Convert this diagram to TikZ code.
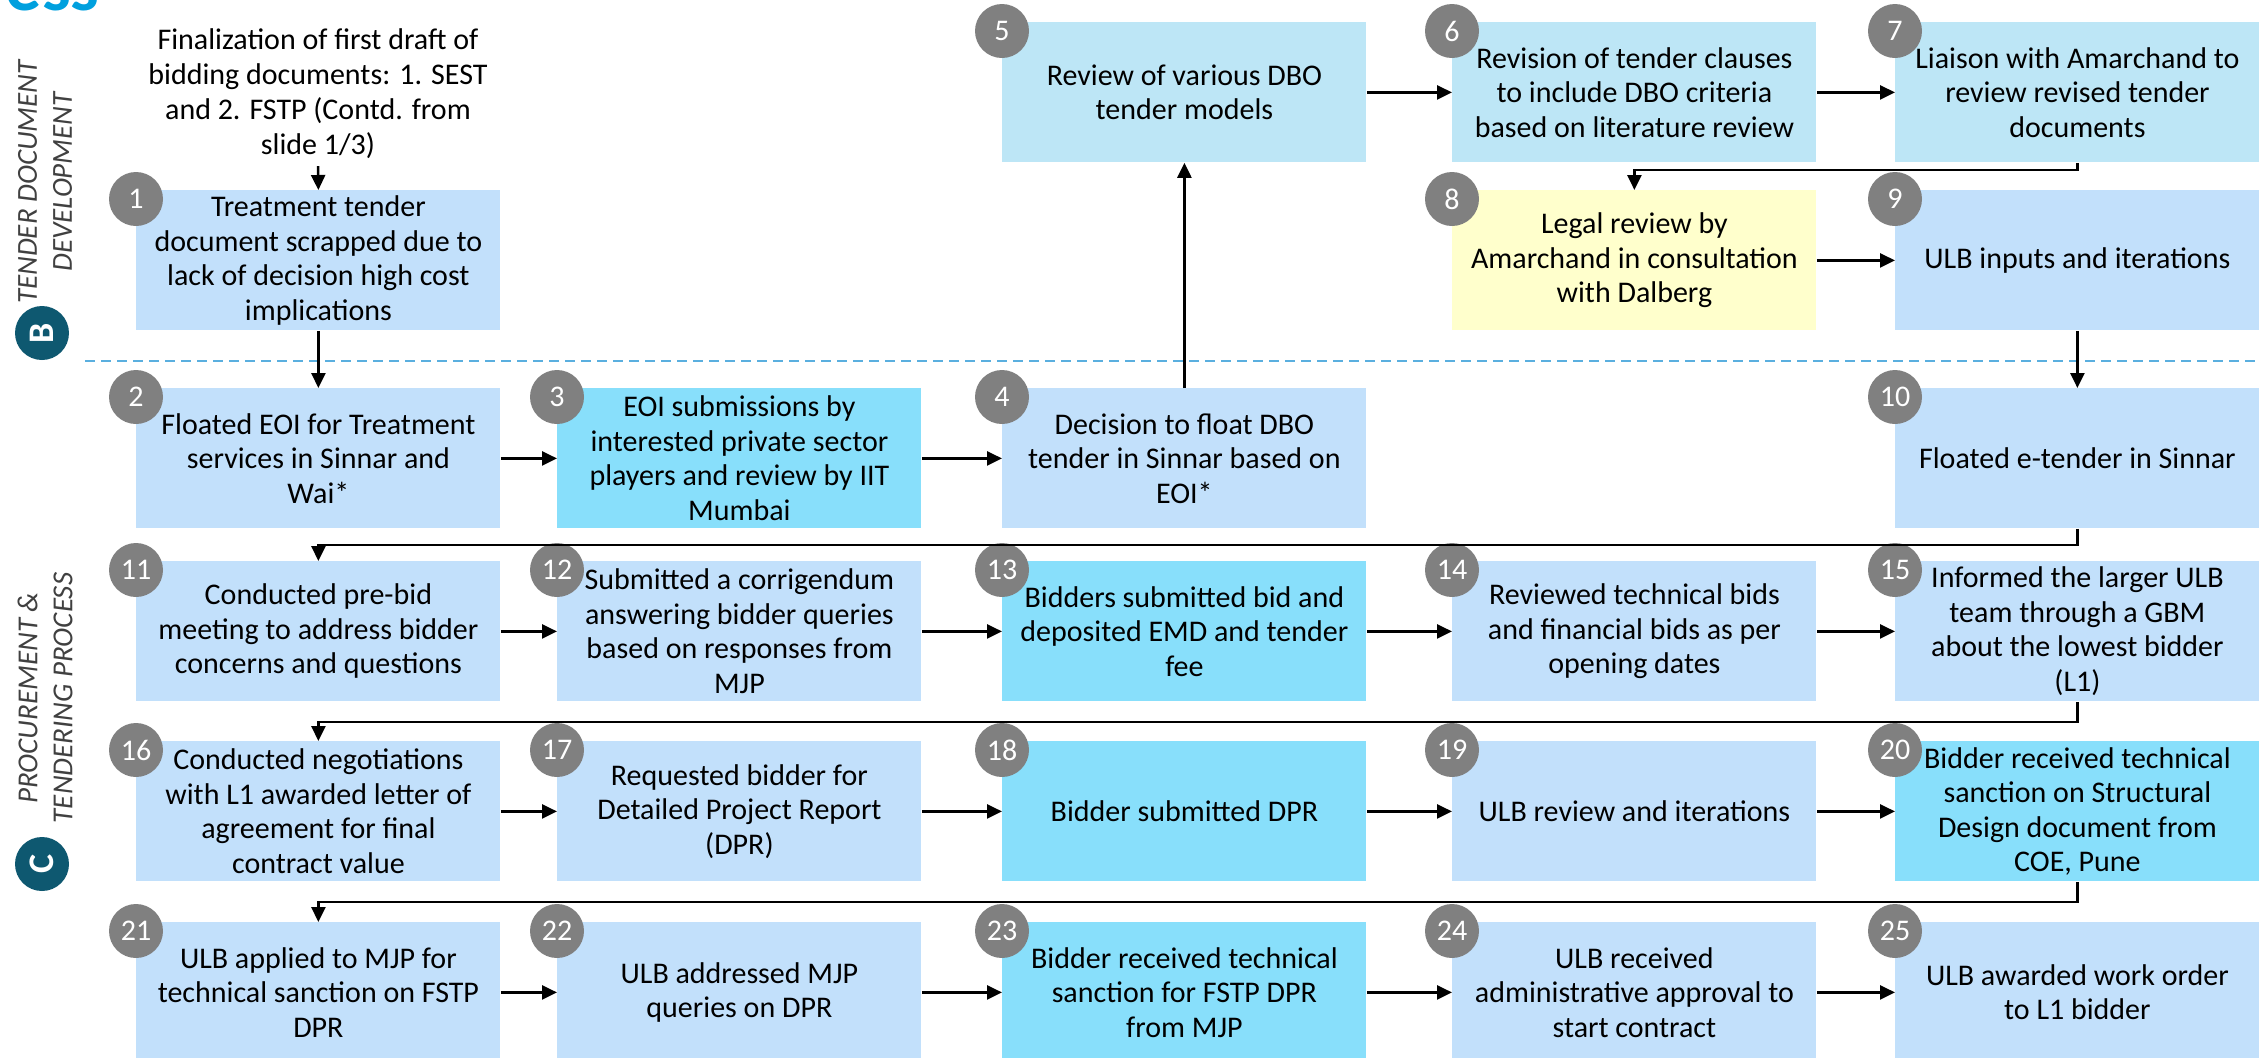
\documentclass[tikz,border=0pt]{standalone}
\usepackage{fontspec}
\setmainfont{Carlito}
\usetikzlibrary{arrows.meta}

\definecolor{boxblue}{RGB}{194,224,251}
\definecolor{boxcyan}{RGB}{136,223,251}
\definecolor{boxsky}{RGB}{189,230,246}
\definecolor{boxyellow}{RGB}{255,255,204}
\definecolor{numgray}{RGB}{128,128,128}
\definecolor{phaseteal}{RGB}{14,88,112}
\definecolor{divider}{RGB}{90,175,223}
\definecolor{titlecyan}{RGB}{0,160,222}
\definecolor{sidegray}{RGB}{64,64,64}

\tikzset{
  stepbox/.style={rectangle, anchor=north west, minimum width=182pt,
    minimum height=70pt, inner sep=0pt, align=center,
    font=\fontsize{15}{17.25}\selectfont},
  numdot/.style={circle, fill=numgray, text=white, minimum size=27pt,
    inner sep=0pt, font=\fontsize{15}{15}\selectfont},
  phasedot/.style={circle, fill=phaseteal, text=white, minimum size=27pt,
    inner sep=0pt, font=\bfseries\fontsize{18}{18}\selectfont},
  sidelabel/.style={rotate=90, align=center, text=sidegray,
    font=\itshape\fontsize{14.5}{17.5}\selectfont},
  conn/.style={draw=black, line width=1.25pt,
    -{Triangle[length=7.5pt,width=7pt]}},
  divline/.style={draw=divider, line width=1pt, dash pattern=on 5pt off 3pt},
}

% one numbered step: name/number, x, y (top-left corner), fill colour, text
\newcommand\flowstep[5]{%
  \node[stepbox, fill=#4] (s#1) at (#2,#3) {#5};
  \node[numdot] (n#1) at ([yshift=-4.5pt]s#1.north west) {#1};
}

\begin{document}
\begin{tikzpicture}[x=0.5pt, y=-0.5pt]
\useasboundingbox (0,0) rectangle (2260,1057);

% heading fragment
\node[anchor=base east, inner sep=0pt, text=titlecyan,
  font=\bfseries\fontsize{36}{36}\selectfont] (head) at (100,10) {ess};

% phase divider
\draw[divline] (85,361) -- (2260,361);

% phase markers
\node[phasedot] (phB) at (42,333) {\rotatebox{90}{B}};
\node[sidelabel] (labB) at (45,182) {TENDER DOCUMENT\\DEVELOPMENT};
\node[phasedot] (phC) at (42,864) {\rotatebox{90}{C}};
\node[sidelabel] (labC) at (45,698) {PROCUREMENT \&\\TENDERING PROCESS};

% starting note
\node[align=center, font=\fontsize{15}{17.5}\selectfont] (draft) at (318,94)
  {Finalization of first draft of\\bidding documents: 1. SEST\\and 2. FSTP (Contd. from\\slide 1/3)};

% tender document development
\flowstep{5}{1002}{22}{boxsky}{Review of various DBO\\tender models}
\flowstep{6}{1452}{22}{boxsky}{Revision of tender clauses\\to include DBO criteria\\based on literature review}
\flowstep{7}{1895}{22}{boxsky}{Liaison with Amarchand to\\review revised tender\\documents}
\flowstep{1}{136}{190}{boxblue}{Treatment tender\\document scrapped due to\\lack of decision high cost\\implications}
\flowstep{8}{1452}{190}{boxyellow}{Legal review by\\Amarchand in consultation\\with Dalberg}
\flowstep{9}{1895}{190}{boxblue}{ULB inputs and iterations}

% procurement and tendering
\flowstep{2}{136}{388}{boxblue}{Floated EOI for Treatment\\services in Sinnar and\\Wai*}
\flowstep{3}{557}{388}{boxcyan}{EOI submissions by\\interested private sector\\players and review by IIT\\Mumbai}
\flowstep{4}{1002}{388}{boxblue}{Decision to float DBO\\tender in Sinnar based on\\EOI*}
\flowstep{10}{1895}{388}{boxblue}{Floated e-tender in Sinnar}

\flowstep{11}{136}{561}{boxblue}{Conducted pre-bid\\meeting to address bidder\\concerns and questions}
\flowstep{12}{557}{561}{boxblue}{Submitted a corrigendum\\answering bidder queries\\based on responses from\\MJP}
\flowstep{13}{1002}{561}{boxcyan}{Bidders submitted bid and\\deposited EMD and tender\\fee}
\flowstep{14}{1452}{561}{boxblue}{Reviewed technical bids\\and financial bids as per\\opening dates}
\flowstep{15}{1895}{561}{boxblue}{Informed the larger ULB\\team through a GBM\\about the lowest bidder\\(L1)}

\flowstep{16}{136}{741}{boxblue}{Conducted negotiations\\with L1 awarded letter of\\agreement for final\\contract value}
\flowstep{17}{557}{741}{boxblue}{Requested bidder for\\Detailed Project Report\\(DPR)}
\flowstep{18}{1002}{741}{boxcyan}{Bidder submitted DPR}
\flowstep{19}{1452}{741}{boxblue}{ULB review and iterations}
\flowstep{20}{1895}{741}{boxcyan}{Bidder received technical\\sanction on Structural\\Design document from\\COE, Pune}

\flowstep{21}{136}{922}{boxblue}{ULB applied to MJP for\\technical sanction on FSTP\\DPR}
\flowstep{22}{557}{922}{boxblue}{ULB addressed MJP\\queries on DPR}
\flowstep{23}{1002}{922}{boxcyan}{Bidder received technical\\sanction for FSTP DPR\\from MJP}
\flowstep{24}{1452}{922}{boxblue}{ULB received\\administrative approval to\\start contract}
\flowstep{25}{1895}{922}{boxblue}{ULB awarded work order\\to L1 bidder}

% connectors
\draw[conn] (draft.south) -- (s1.north);
\draw[conn] (s1.south) -- (s2.north);
\draw[conn] (s2.east) -- (s3.west);
\draw[conn] (s3.east) -- (s4.west);
\draw[conn] (s4.north) -- (s5.south);
\draw[conn] (s5.east) -- (s6.west);
\draw[conn] (s6.east) -- (s7.west);
\draw[conn] (s7.south) -- ([yshift=-3.5pt]s7.south) -| (s8.north);
\draw[conn] (s8.east) -- (s9.west);
\draw[conn] (s9.south) -- (s10.north);
\draw[conn] (s10.south) -- ([yshift=-8pt]s10.south) -| (s11.north);
\draw[conn] (s11.east) -- (s12.west);
\draw[conn] (s12.east) -- (s13.west);
\draw[conn] (s13.east) -- (s14.west);
\draw[conn] (s14.east) -- (s15.west);
\draw[conn] (s15.south) -- ([yshift=-10pt]s15.south) -| (s16.north);
\draw[conn] (s16.east) -- (s17.west);
\draw[conn] (s17.east) -- (s18.west);
\draw[conn] (s18.east) -- (s19.west);
\draw[conn] (s19.east) -- (s20.west);
\draw[conn] (s20.south) -- ([yshift=-10pt]s20.south) -| (s21.north);
\draw[conn] (s21.east) -- (s22.west);
\draw[conn] (s22.east) -- (s23.west);
\draw[conn] (s23.east) -- (s24.west);
\draw[conn] (s24.east) -- (s25.west);
\end{tikzpicture}
\end{document}
